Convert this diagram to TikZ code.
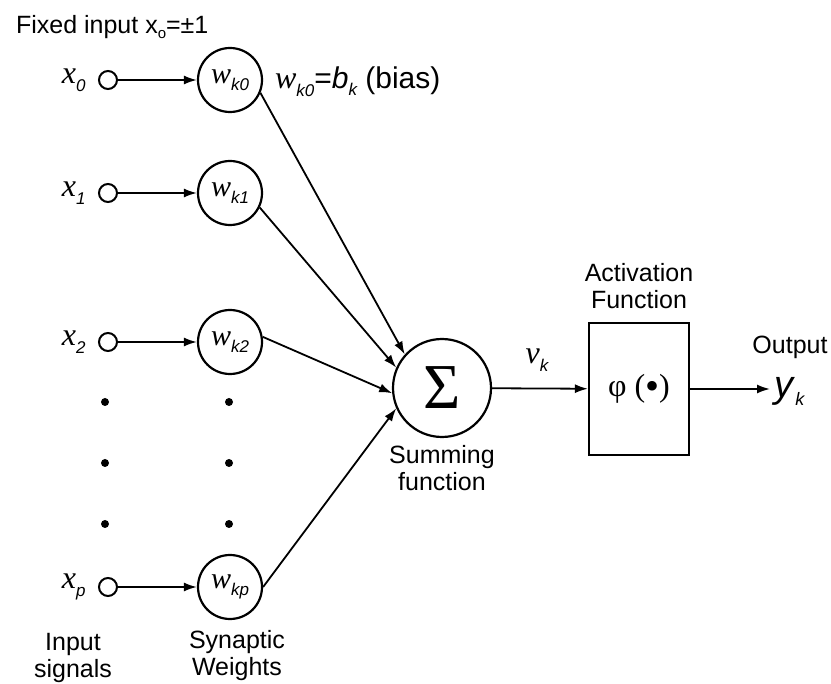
\documentclass[tikz,border=0pt]{standalone}
\usepackage{fontspec}
\setmainfont{Liberation Sans}
\newfontfamily\seriffont{Liberation Serif}
\usetikzlibrary{arrows.meta, positioning}

\newcommand{\symsub}[3][8.5]{{\seriffont\itshape #2}\raisebox{-0.45ex}{\fontsize{#1}{#1}\selectfont\itshape #3}}

\begin{document}
\begin{tikzpicture}[
        x=0.5pt, y=-0.5pt,
        font=\fontsize{12.5}{13.5}\selectfont,
        inputdot/.style={circle, draw, line width=1pt, inner sep=0pt, minimum size=9pt},
        weight/.style={circle, draw, line width=1.1pt, inner sep=0pt, minimum size=32pt, font=\fontsize{15}{15}\selectfont},
        sumnode/.style={circle, draw, line width=1.1pt, inner sep=0pt, minimum size=49pt, font=\fontsize{32}{32}\selectfont\seriffont},
        actbox/.style={rectangle, draw, line width=1.1pt, minimum width=50pt, minimum height=66pt, font=\fontsize{16}{16}\selectfont\seriffont},
        xlabel/.style={font=\fontsize{16}{16}\selectfont, inner sep=2pt},
        caption/.style={align=center, font=\fontsize{12.5}{13.5}\selectfont},
        arrow/.style={-{Latex[length=6.5pt, width=4.5pt]}, line width=0.9pt}
    ]
        \useasboundingbox (0,0) rectangle (831,684);

        \node[anchor=west] (fixed) at (9,27) {Fixed input x\raisebox{-0.4ex}{\fontsize{7.5}{7.5}\selectfont o}=±1};

        % Inputs
        \node[inputdot] (in0) at (108,80) {};
        \node[inputdot] (in1) at (108,193) {};
        \node[inputdot] (in2) at (108,342) {};
        \node[inputdot] (inp) at (108,587) {};
        \node[xlabel, left=4pt of in0] (x0) {\symsub{x}{0}};
        \node[xlabel, left=4pt of in1] (x1) {\symsub{x}{1}};
        \node[xlabel, left=4pt of in2] (x2) {\symsub{x}{2}};
        \node[xlabel, left=4pt of inp] (xp) {\symsub{x}{p}};

        % Synaptic weights
        \node[weight] (w0) at (230,80) {\symsub{w}{k0}};
        \node[weight] (w1) at (230,193) {\symsub{w}{k1}};
        \node[weight] (w2) at (230,342) {\symsub{w}{k2}};
        \node[weight] (wp) at (230,587) {\symsub{w}{kp}};
        \node[anchor=west, font=\fontsize{15}{15}\selectfont] (bias) at (268,82)
            {{\fontsize{16}{16}\selectfont\symsub{w}{k0}}=\textit{b}\raisebox{-0.4ex}{\fontsize{8.5}{8.5}\selectfont\itshape k} (bias)};

        % Dots
        \fill (105,402) circle (4);
        \fill (105,463) circle (4);
        \fill (105,524) circle (4);
        \fill (229,402) circle (4);
        \fill (229,463) circle (4);
        \fill (229,524) circle (4);

        % Summing and activation
        \node[sumnode] (sum) at (442,388) {Σ};
        \node[caption, below=0pt of sum] (sumtext) {Summing\\function};
        \node[actbox] (act) at (639,389) {φ (\raisebox{-0.2ex}{\fontsize{20}{16}\selectfont •})};
        \node[caption, above=3pt of act] (acttext) {Activation\\Function};
        \node[font=\fontsize{16}{16}\selectfont] (vk) at (537,360) {\symsub{v}{k}};
        \node[anchor=west, inner sep=2pt, font=\fontsize{19}{19}\selectfont] (yk) at (770,391)
            {\textit{y}\raisebox{-0.4ex}{\fontsize{9}{9}\selectfont\itshape k}};
        \node (output) at (790,347) {Output};

        \node[caption] (inputs) at (73,658) {Input\\signals};
        \node[caption] (weights) at (237,656) {Synaptic\\Weights};

        % Arrows
        \draw[arrow] (in0) -- (w0);
        \draw[arrow] (in1) -- (w1);
        \draw[arrow] (in2) -- (w2);
        \draw[arrow] (inp) -- (wp);
        \draw[arrow] (w0.-23) -- (sum.138);
        \draw[arrow] (w1.-26) -- (sum.156);
        \draw[arrow] (w2.9) -- (sum.186);
        \draw[arrow] (wp.0) -- (sum.204);
        \draw[arrow] (sum) -- (act);
        \draw[arrow] (act.east) -- (act.east -| yk.west);

    \end{tikzpicture}
\end{document}
